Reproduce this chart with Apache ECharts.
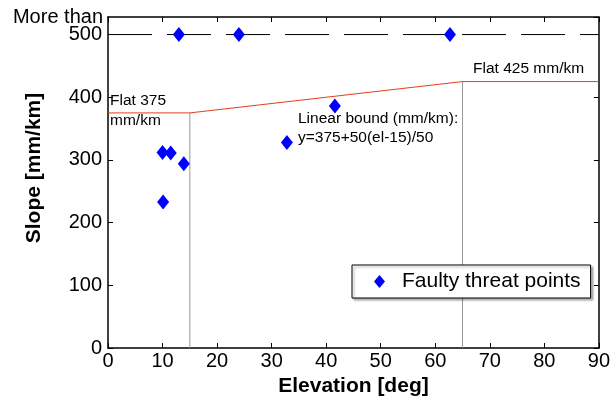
<!DOCTYPE html>
<html>
<head>
<meta charset="utf-8">
<script src="https://cdn.jsdelivr.net/npm/echarts@6/dist/echarts.min.js"></script>
<style>
html,body{margin:0;padding:0;background:#fff;}
#c{width:613px;height:402px;}
</style>
</head>
<body>
<div id="c"></div>
<script>
// Data
const pointsX = [13, 24, 62.7, 41.6, 10.0, 11.5, 13.9, 10.1, 32.8];
const pointsY = [500, 500, 500, 386, 312, 311, 294, 233, 328];
const boundX = [0, 15, 65, 90];
const boundY = [375, 375, 425, 425];
const vline1X = [15, 15];
const vline1Y = [0, 375];
const vline2X = [65, 65];
const vline2Y = [0, 425];
const capX = [0, 90];
const capY = [500, 500];
const xTicks = [0, 10, 20, 30, 40, 50, 60, 70, 80, 90];
const yTicks = [0, 100, 200, 300, 400, 500];
const yTopLabel = 'More than';
const yMax = 528;
const seriesName = 'Faulty threat points';

const zip = (a, b) => a.map((v, i) => [v, b[i]]);
const font = 'Liberation Sans, Arial, sans-serif';

const chart = echarts.init(document.getElementById('c'), null, {renderer: 'canvas'});
const axisLine = {show: true, onZero: false, lineStyle: {color: '#000', width: 1.5}};
const tick = {show: true, inside: true, length: 5, lineStyle: {color: '#000', width: 1}};

chart.setOption({
  animation: false,
  backgroundColor: '#fff',
  grid: {left: 108, right: 14, top: 17, bottom: 54, containLabel: false},
  xAxis: [{
    type: 'value', gridIndex: 0, position: 'bottom', min: 0, max: 90, interval: 10,
    axisLine: axisLine, axisTick: tick, splitLine: {show: false},
    axisLabel: {color: '#000', fontSize: 20, fontFamily: font, margin: 3, hideOverlap: false,
      formatter: v => xTicks.includes(v) ? String(v) : ''},
    name: 'Elevation [deg]', nameLocation: 'middle', nameGap: 28,
    nameTextStyle: {color: '#000', fontSize: 21, fontWeight: 'bold', fontFamily: font}
  }, {
    type: 'value', gridIndex: 0, position: 'top', min: 0, max: 90, interval: 10, show: true,
    axisLine: axisLine, axisTick: tick, splitLine: {show: false}, axisLabel: {show: false}
  }],
  yAxis: [{
    type: 'value', gridIndex: 0, position: 'left', min: 0, max: yMax, interval: 100,
    axisLine: axisLine, axisTick: tick, splitLine: {show: false},
    axisLabel: {color: '#000', fontSize: 20, fontFamily: font, margin: 6, showMaxLabel: false, hideOverlap: false,
      formatter: v => yTicks.includes(v) ? String(v) : ''}
  }, {
    type: 'value', gridIndex: 0, position: 'right', min: 0, max: yMax, interval: 100, show: true,
    axisLine: axisLine, axisTick: tick, splitLine: {show: false}, axisLabel: {show: false}
  }],
  legend: {
    data: [{name: seriesName, icon: 'diamond'}],
    left: 352, top: 265,
    padding: [6, 10, 6, 22],
    itemWidth: 11, itemHeight: 13, itemGap: 20,
    borderColor: '#000', borderWidth: 1,
    backgroundColor: '#fff',
    shadowColor: 'rgba(0,0,0,0.3)', shadowOffsetX: 2, shadowOffsetY: 2, shadowBlur: 2,
    textStyle: {color: '#000', fontSize: 21, fontFamily: font, padding: [0, 0, 0, 12]}
  },
  series: [
    {type: 'line', data: zip(capX, capY), symbol: 'none', silent: true,
     lineStyle: {color: '#000', width: 1, type: [44, 15]}, z: 1},
    {type: 'line', data: zip(vline1X, vline1Y), symbol: 'none', silent: true,
     lineStyle: {color: '#9a9a9a', width: 1}, z: 1},
    {type: 'line', data: zip(vline2X, vline2Y), symbol: 'none', silent: true,
     lineStyle: {color: '#9a9a9a', width: 1}, z: 1},
    {type: 'line', data: zip(boundX, boundY), symbol: 'none', silent: true,
     xAxisIndex: 1, yAxisIndex: 1,
     lineStyle: {color: '#e2401c', width: 1}, z: 2},
    {name: seriesName, type: 'scatter', data: zip(pointsX, pointsY),
     symbol: 'diamond', symbolSize: [12, 15],
     itemStyle: {color: '#0000ff', opacity: 1}, z: 5}
  ],
  graphic: [
    {type: 'text', x: 103, y: 17,
     style: {text: yTopLabel, fontSize: 20, fontFamily: font, fill: '#000', align: 'right', verticalAlign: 'middle'}},
    {type: 'text', x: 34, y: 168, rotation: Math.PI / 2,
     style: {text: 'Slope [mm/km]', fontSize: 21, fontWeight: 'bold', fontFamily: font, fill: '#000',
             align: 'center', verticalAlign: 'middle'}},
    {type: 'text', left: 110, top: 93, style: {text: 'Flat 375', fontSize: 15.5, fontFamily: font, fill: '#000'}},
    {type: 'text', left: 110, top: 113, style: {text: 'mm/km', fontSize: 15.5, fontFamily: font, fill: '#000'}},
    {type: 'text', left: 473, top: 61, style: {text: 'Flat 425 mm/km', fontSize: 15.5, fontFamily: font, fill: '#000'}},
    {type: 'text', left: 298, top: 111, style: {text: 'Linear bound (mm/km):', fontSize: 15.5, fontFamily: font, fill: '#000'}},
    {type: 'text', left: 298, top: 130, style: {text: 'y=375+50(el-15)/50', fontSize: 15.5, fontFamily: font, fill: '#000'}}
  ]
});
</script>
</body>
</html>
